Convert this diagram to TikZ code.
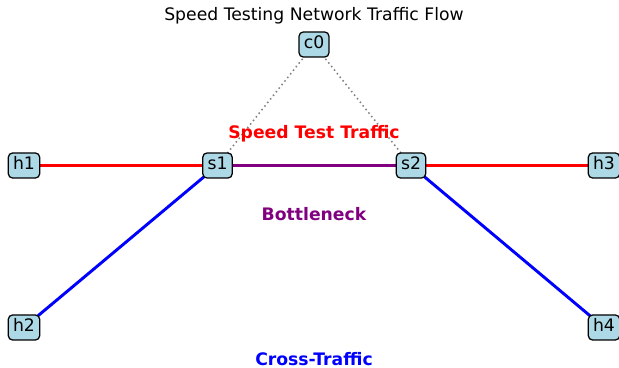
\documentclass[tikz,border=0pt]{standalone}
\usepackage{fontspec}
\setmainfont{DejaVu Sans}
\definecolor{nodefill}{HTML}{ADD8E6}
\definecolor{mpurple}{HTML}{800080}
\begin{document}
\begin{tikzpicture}[x=0.72pt,y=-0.72pt,
  netnode/.style={draw=black,line width=0.9pt,fill=nodefill,rounded corners=3pt,
    inner xsep=3.4pt,inner ysep=3.2pt,text height=9pt,text depth=2.6pt,font=\fontsize{12.4pt}{14pt}\selectfont},
  link/.style={line width=2.1pt},
  ctl/.style={gray,line width=1.1pt,dash pattern=on 1.1pt off 2.2pt},
  lbl/.style={font=\fontsize{12.4pt}{14pt}\selectfont\bfseries}]
\useasboundingbox (0,0) rectangle (619,368);
\node (title) at (314,16) {\fontsize{12.4pt}{14pt}\selectfont Speed Testing Network Traffic Flow};
\coordinate (pc0) at (314,44.5);
\coordinate (ph1) at (24,165.5);
\coordinate (ps1) at (217.5,165.5);
\coordinate (ps2) at (411,165.5);
\coordinate (ph3) at (604,165.5);
\coordinate (ph2) at (24,327.5);
\coordinate (ph4) at (604,327.5);
\draw[ctl] (pc0) -- (ps1);
\draw[ctl] (pc0) -- (ps2);
\draw[link,red] (ph1) -- (ps1);
\draw[link,red] (ps2) -- (ph3);
\draw[link,mpurple] (ps1) -- (ps2);
\draw[link,blue] (ps1) -- (ph2);
\draw[link,blue] (ps2) -- (ph4);
\node[netnode] (c0) at (pc0) {c0};
\node[netnode] (h1) at (ph1) {h1};
\node[netnode] (s1) at (ps1) {s1};
\node[netnode] (s2) at (ps2) {s2};
\node[netnode] (h3) at (ph3) {h3};
\node[netnode] (h2) at (ph2) {h2};
\node[netnode] (h4) at (ph4) {h4};
\node[lbl,red] (lspeed) at (314,133.5) {Speed Test Traffic};
\node[lbl,mpurple] (lbott) at (314,214.5) {Bottleneck};
\node[lbl,blue] (lcross) at (314,359.5) {Cross-Traffic};
\end{tikzpicture}
\end{document}
